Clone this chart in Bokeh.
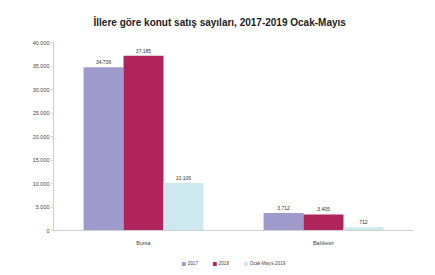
from bokeh.plotting import figure
from bokeh.models import ColumnDataSource, FactorRange, Range1d, CustomJSTickFormatter, Legend, LegendItem
from bokeh.transform import dodge
from bokeh.core.properties import value
from bokeh.embed import file_html
from bokeh.resources import INLINE

categories = ["Bursa", "Balıkesir"]
series_names = ["2017", "2018", "Ocak-Mayıs 2019"]
v2017 = [34736, 3712]
v2018 = [37185, 3405]
v2019 = [10106, 712]
colors = ["#9e9bcc", "#b0245c", "#cde8ef"]
y_ticks = [0, 5000, 10000, 15000, 20000, 25000, 30000, 35000, 40000]

def fmt(n):
    return f"{n:,}".replace(",", ".")

src = ColumnDataSource(dict(
    cat=categories,
    s0=v2017, s1=v2018, s2=v2019,
    l0=[fmt(v) for v in v2017], l1=[fmt(v) for v in v2018], l2=[fmt(v) for v in v2019],
))

FONT = "Liberation Sans"
FRAME_H = 230
PLOT_H = 188          # pixels spanned by 0..40000
y_top = 40000
y_bottom = -(FRAME_H - PLOT_H) * y_top / PLOT_H   # room under the baseline for the legend

p = figure(frame_width=360, frame_height=FRAME_H, output_backend="svg", toolbar_location=None,
           x_range=FactorRange(*categories, range_padding=0),
           y_range=Range1d(y_bottom, y_top),
           title="İllere göre konut satış sayıları, 2017-2019 Ocak-Mayıs")
p.title.align = "left"
p.title.offset = 40
p.title.standoff = 29
p.title.text_font = FONT
p.title.text_font_size = "10px"
p.title.text_font_style = "bold"
p.title.text_color = "#222222"
p.min_border_left = 53
p.min_border_right = 8
p.min_border_top = 41
p.min_border_bottom = 0
p.outline_line_color = None
p.grid.visible = False
p.background_fill_color = "white"
p.border_fill_color = "white"

w = 0.222
offs = [-w, 0.0, w]
renderers = []
for i in range(3):
    r = p.vbar(x=dodge("cat", offs[i], range=p.x_range), top=f"s{i}", width=w, source=src,
               fill_color=colors[i], line_color=None)
    renderers.append(r)
    p.text(x=dodge("cat", offs[i], range=p.x_range), y=f"s{i}", text=f"l{i}", source=src,
           text_font=value(FONT), text_font_size="5px", text_color="#333333",
           text_align="center", text_baseline="bottom", y_offset=-3)

p.yaxis.ticker = y_ticks
p.yaxis.bounds = (0, y_top)
p.yaxis.formatter = CustomJSTickFormatter(code="return tick.toString().replace(/\\B(?=(\\d{3})+(?!\\d))/g, '.');")
p.xaxis.fixed_location = 0
for ax in (p.xaxis, p.yaxis):
    ax.axis_line_color = "#d0d0d0"
    ax.major_label_text_font = FONT
    ax.major_label_text_font_size = "5.5px"
    ax.major_label_text_color = "#444444"
    ax.minor_tick_line_color = None
p.yaxis.major_tick_line_color = "#d0d0d0"
p.yaxis.major_tick_out = 2
p.yaxis.major_tick_in = 0
p.yaxis.major_label_standoff = 2
p.xaxis.major_tick_line_color = None
p.xaxis.major_label_standoff = 3

legend = Legend(items=[LegendItem(label=series_names[i], renderers=[renderers[i]]) for i in range(3)],
                orientation="horizontal", location="bottom_center",
                label_text_font=FONT, label_text_font_size="4.5px", label_text_color="#444444",
                glyph_width=5, glyph_height=5, label_standoff=2, spacing=4,
                label_height=5, padding=1, margin=6, border_line_color=None,
                background_fill_alpha=0)
p.add_layout(legend, "center")

open("out.html", "w").write(file_html(p, INLINE))
